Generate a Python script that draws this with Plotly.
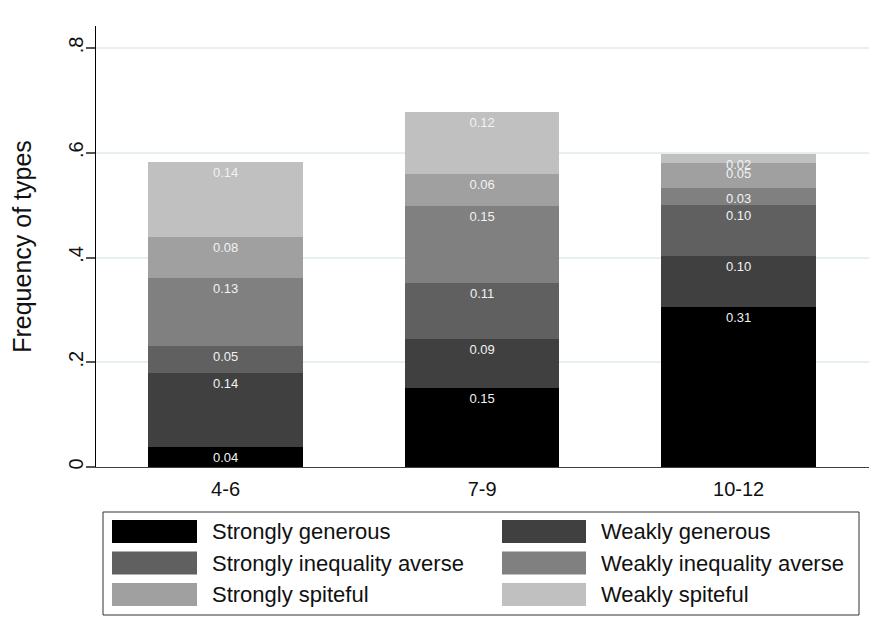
import plotly.graph_objects as go

# ---- data ----
groups = ["4-6", "7-9", "10-12"]
series_names = ["Strongly generous", "Weakly generous",
                "Strongly inequality averse", "Weakly inequality averse",
                "Strongly spiteful", "Weakly spiteful"]
strongly_generous = [0.038, 0.151, 0.306]
weakly_generous = [0.142, 0.093, 0.096]
strongly_ineq_averse = [0.051, 0.107, 0.098]
weakly_ineq_averse = [0.130, 0.147, 0.032]
strongly_spiteful = [0.078, 0.062, 0.048]
weakly_spiteful = [0.144, 0.117, 0.018]
series_values = [strongly_generous, weakly_generous, strongly_ineq_averse,
                 weakly_ineq_averse, strongly_spiteful, weakly_spiteful]
y_tickvals = [0, 0.2, 0.4, 0.6, 0.8]
y_ticktext = ["0", ".2", ".4", ".6", ".8"]

colors = ["#000000", "#404040", "#606060", "#808080", "#a0a0a0", "#c0c0c0"]
FONT = "Arial, Liberation Sans, Helvetica, sans-serif"

OFF = 8  # page body margin in the browser
W, H = 872, 634
ML, MT = 96 - OFF, 26 - OFF
MR = W - (869 - OFF)
MB = H - (467 - OFF)
PW, PH = W - ML - MR, H - MT - MB


def px_x(sx):
    return (sx - OFF - ML) / PW


def px_y(sy):
    return (H - MB - (sy - OFF)) / PH


fig = go.Figure()
for name, vals, col in zip(series_names, series_values, colors):
    fig.add_trace(go.Bar(
        x=groups, y=vals, name=name, width=0.602,
        marker=dict(color=col, line=dict(width=0)),
        texttemplate="%{y:.2f}", textposition="inside",
        insidetextanchor="end", textangle=0, constraintext="none",
        textfont=dict(family=FONT, size=13, color="#f2f2f2"),
        showlegend=False, hoverinfo="skip",
    ))

shapes = []
annotations = []
# legend box
shapes.append(dict(type="rect", xref="paper", yref="paper",
                   x0=px_x(103), x1=px_x(859), y0=px_y(512), y1=px_y(615),
                   line=dict(color="#333333", width=1), fillcolor="white"))
row_centers = [531.5, 563, 594.5]
col_swatch = [(112, 197, 210), (502, 586, 599)]
for i, (name, col) in enumerate(zip(series_names, colors)):
    r, c = divmod(i, 2)
    sx0, sx1, tx = col_swatch[c]
    cy = row_centers[r]
    shapes.append(dict(type="rect", xref="paper", yref="paper",
                       x0=px_x(sx0), x1=px_x(sx1),
                       y0=px_y(cy - 11.5), y1=px_y(cy + 11.5),
                       line=dict(color=col, width=0), fillcolor=col))
    annotations.append(dict(xref="paper", yref="paper", x=px_x(tx), y=px_y(cy),
                            text=name, showarrow=False, xanchor="left",
                            yanchor="middle",
                            font=dict(family=FONT, size=22, color="#111111")))

fig.update_layout(
    width=W, height=H,
    margin=dict(l=ML, r=MR, t=MT, b=MB, pad=0, autoexpand=False),
    barmode="stack",
    plot_bgcolor="white", paper_bgcolor="white",
    font=dict(family=FONT, color="#111111"),
    shapes=shapes, annotations=annotations,
    xaxis=dict(type="category", range=[-0.505, 2.508], showgrid=False,
               showline=True, automargin=False,
               linecolor="#404040", linewidth=1, ticks="",
               ticklabelstandoff=4,
               tickfont=dict(family=FONT, size=20, color="#111111")),
    yaxis=dict(range=[0, 0.842], tickvals=y_tickvals, ticktext=y_ticktext,
               automargin=False,
               tickangle=-90, ticks="outside", ticklen=9, tickcolor="#555555",
               tickwidth=1.5, ticklabelstandoff=-5,
               tickfont=dict(family=FONT, size=20, color="#111111"),
               showline=True, linecolor="#000000", linewidth=1,
               showgrid=True, gridcolor="#e8eff2", gridwidth=1.5,
               zeroline=False,
               title=dict(text="Frequency of types", standoff=36,
                          font=dict(family=FONT, size=25, color="#111111"))),
)

fig.write_html("out.html")
